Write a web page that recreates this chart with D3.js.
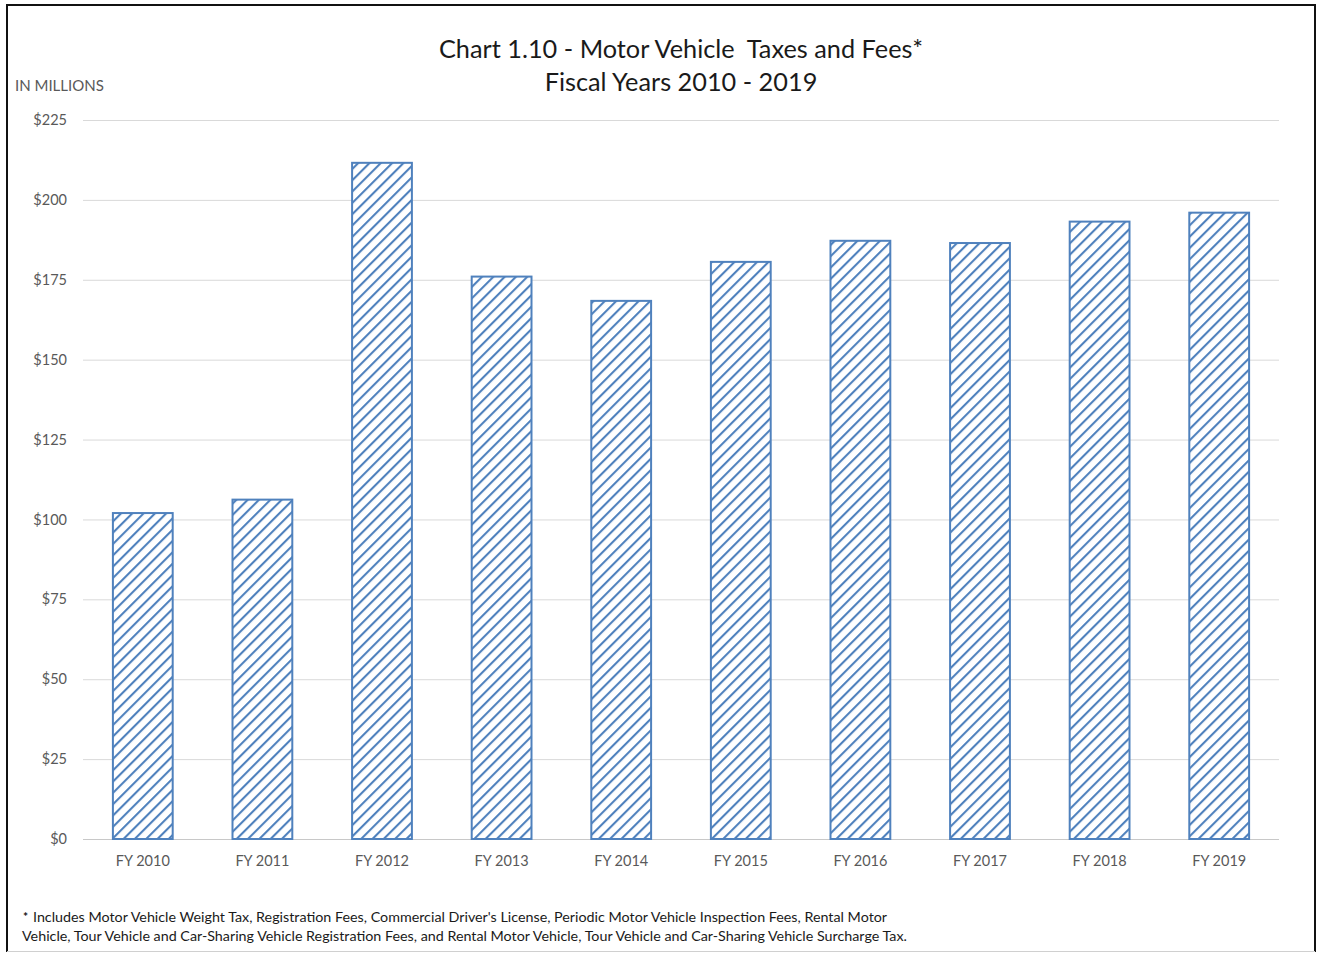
<!DOCTYPE html>
<html>
<head>
<meta charset="utf-8">
<script src="https://cdn.jsdelivr.net/npm/d3@7"></script>
<style>
  body { margin: 0; background: #fff; }
  text { font-family: Lato, "Open Sans", sans-serif; }
</style>
</head>
<body>
<div id="chart"></div>
<script>
// Motor vehicle taxes and fees, in millions
var years = ["FY 2010","FY 2011","FY 2012","FY 2013","FY 2014","FY 2015","FY 2016","FY 2017","FY 2018","FY 2019"];
var amounts = [102.0, 106.2, 211.6, 176.0, 168.4, 180.6, 187.2, 186.5, 193.2, 196.0];
var yTicks = [0, 25, 50, 75, 100, 125, 150, 175, 200, 225];
var titleLines = ["Chart 1.10 - Motor Vehicle\u00a0 Taxes and Fees*", "Fiscal Years 2010 - 2019"];
var footLines = [
  "Includes Motor Vehicle Weight Tax, Registration Fees, Commercial Driver's License, Periodic Motor Vehicle Inspection Fees, Rental  Motor",
  "Vehicle, Tour Vehicle and Car-Sharing Vehicle Registration Fees, and Rental Motor Vehicle, Tour Vehicle and Car-Sharing Vehicle Surcharge Tax."
];

var W = 1317, H = 953;
var margin = {left: 83, right: 38, top: 120, bottom: 114};
var width = W - margin.left - margin.right,
    height = H - margin.top - margin.bottom;

var svgRoot = d3.select("#chart").append("svg")
    .attr("width", W).attr("height", H);

// hatch pattern for the bars
var defs = svgRoot.append("defs");
var pat = defs.append("pattern")
    .attr("id", "hatch")
    .attr("patternUnits", "userSpaceOnUse")
    .attr("width", 8).attr("height", 8)
    .attr("patternTransform", "rotate(45)");
pat.append("rect").attr("width", 8).attr("height", 8).attr("fill", "#fff");
pat.append("line")
    .attr("x1", 0).attr("y1", 0).attr("x2", 0).attr("y2", 8)
    .attr("stroke", "#4f81bd").attr("stroke-width", 4.2);

// frame
svgRoot.append("path")
    .attr("d", "M7,952 V5 H1315 V952")
    .attr("fill", "none").attr("stroke", "#111").attr("stroke-width", 2);
svgRoot.append("line")
    .attr("x1", 7).attr("x2", 1315).attr("y1", 951.5).attr("y2", 951.5)
    .attr("stroke", "#d0d0d0").attr("stroke-width", 1);

// title
svgRoot.append("g").selectAll("text")
    .data(titleLines).enter().append("text")
    .attr("x", 681).attr("y", function(d, i) { return 58 + i * 33; })
    .attr("text-anchor", "middle")
    .attr("font-size", 25.3)
    .attr("fill", "#1a1a1a")
    .text(function(d) { return d; });

svgRoot.append("text")
    .attr("x", 15).attr("y", 91)
    .attr("font-size", 15).attr("fill", "#595959")
    .text("IN MILLIONS");

var svg = svgRoot.append("g")
    .attr("transform", "translate(" + margin.left + "," + margin.top + ")");

var x = d3.scaleBand().domain(years).range([0, width]).paddingInner(0.5).paddingOuter(0.25);
var y = d3.scaleLinear().domain([0, 225]).range([height, 0]);

// gridlines
svg.append("g").attr("class", "grid")
    .selectAll("line").data(yTicks).enter().append("line")
    .attr("x1", 0).attr("x2", width)
    .attr("y1", function(d) { return y(d) + 0.5; })
    .attr("y2", function(d) { return y(d) + 0.5; })
    .attr("stroke", function(d) { return d === 0 ? "#c8c8c8" : "#d9d9d9"; })
    .attr("stroke-width", 1);

// y axis labels
var yAxis = svg.append("g")
    .call(d3.axisLeft(y).tickValues(yTicks).tickSize(0).tickPadding(16)
        .tickFormat(function(d) { return "$" + d; }));
yAxis.select(".domain").remove();
yAxis.selectAll("text")
    .attr("font-family", "Lato, sans-serif")
    .attr("font-size", 14.5).attr("fill", "#595959");

// x axis labels
var xAxis = svg.append("g")
    .attr("transform", "translate(0," + height + ")")
    .call(d3.axisBottom(x).tickSize(0).tickPadding(17));
xAxis.select(".domain").remove();
xAxis.selectAll("text")
    .attr("font-family", "Lato, sans-serif")
    .attr("font-size", 14.5).attr("fill", "#595959");

// bars
svg.append("g").attr("class", "bars")
    .selectAll("rect").data(amounts).enter().append("rect")
    .attr("x", function(d, i) { return x(years[i]); })
    .attr("y", function(d) { return y(d); })
    .attr("width", x.bandwidth())
    .attr("height", function(d) { return height - y(d); })
    .attr("fill", "url(#hatch)")
    .attr("stroke", "#4f81bd").attr("stroke-width", 2);

// footnote
var foot = svgRoot.append("g");
foot.append("text").attr("x", 23).attr("y", 921)
    .attr("font-size", 12).attr("font-weight", "bold").attr("fill", "#111").text("*");
foot.selectAll("text.fn").data(footLines).enter().append("text")
    .attr("class", "fn")
    .attr("x", function(d, i) { return i === 0 ? 33 : 22; })
    .attr("y", function(d, i) { return 922 + i * 19; })
    .attr("font-size", 14.3).attr("fill", "#1a1a1a")
    .text(function(d) { return d; });
</script>
</body>
</html>
